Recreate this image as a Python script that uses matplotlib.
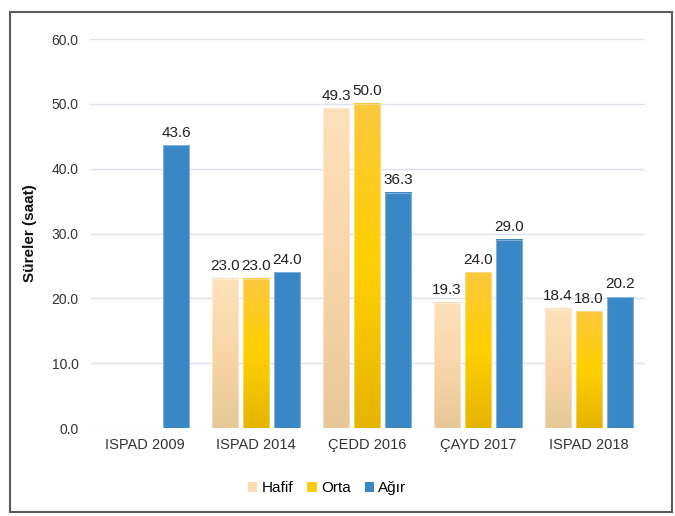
import numpy as np
import matplotlib

matplotlib.use("Agg")
import matplotlib.pyplot as plt
from matplotlib.colors import LinearSegmentedColormap
from matplotlib.patches import Patch, Rectangle

categories = ["ISPAD 2009", "ISPAD 2014", "ÇEDD 2016", "ÇAYD 2017", "ISPAD 2018"]
hafif = [np.nan, 23.0, 49.3, 19.3, 18.4]
orta = [np.nan, 23.0, 50.0, 24.0, 18.0]
agir = [43.6, 24.0, 36.3, 29.0, 20.2]
series_names = ["Hafif", "Orta", "Ağır"]

plt.rcParams["font.family"] = ["Liberation Sans", "DejaVu Sans"]

# top -> bottom gradient colours per series
cmaps = [
    LinearSegmentedColormap.from_list("hafif", ["#FEE1BA", "#F8D6AA", "#E7C797"]),
    LinearSegmentedColormap.from_list("orta", ["#FCC83E", "#FFD000", "#E6B400"]),
    LinearSegmentedColormap.from_list("agir", ["#3A87C6", "#3A87C6"]),
]
legend_colors = ["#FCDDB2", "#FFCB10", "#3A87C6"]

fig = plt.figure(figsize=(6.75, 5.16), dpi=100)
ax = fig.add_axes([0.1326, 0.1705, 0.8224, 0.7539])

x = np.arange(len(categories))
width = 0.235
offset = 0.28
grad = np.linspace(0, 1, 256).reshape(-1, 1)

for k, values in enumerate([hafif, orta, agir]):
    pos = x + (k - 1) * offset
    bars = ax.bar(pos, values, width, color="none", edgecolor="none", zorder=3)
    for rect, v in zip(bars, values):
        if np.isnan(v):
            continue
        x0 = rect.get_x()
        ax.imshow(grad, extent=[x0, x0 + width, 0, v], aspect="auto",
                  cmap=cmaps[k], origin="upper", zorder=2)
        ax.add_patch(Rectangle((x0, 0), width, v, fill=False,
                               edgecolor="#FFFFFF", linewidth=0.8, alpha=0.35, zorder=3))
        ax.annotate(f"{v:.1f}", (x0 + width / 2, v), xytext=(0, 4),
                    textcoords="offset points", ha="center", va="bottom",
                    fontsize=11, color="#222222")

ax.set_xlim(-0.5, len(categories) - 0.5)
ax.set_ylim(0, 60)
ax.set_yticks(np.arange(0, 61, 10))
ax.set_yticklabels([f"{t:.1f}" for t in np.arange(0, 61, 10)])
ax.set_xticks(x)
ax.set_xticklabels(categories)
ax.tick_params(axis="both", length=0, labelsize=10, colors="#333333")
ax.tick_params(axis="y", pad=8)
ax.tick_params(axis="x", pad=7, labelsize=10.5)
ax.yaxis.grid(True, color="#DDE1EA", linewidth=1.0)
ax.set_axisbelow(True)
for spine in ax.spines.values():
    spine.set_visible(False)
ax.set_ylabel("Süreler (saat)", fontsize=11, fontweight="bold", color="#111111", labelpad=10)

handles = [Patch(facecolor=c, edgecolor="none") for c in legend_colors]
fig.legend(handles, series_names, loc="center", bbox_to_anchor=(0.485, 0.054), ncol=3,
           frameon=False, fontsize=11, handlelength=0.6, handleheight=0.6,
           handletextpad=0.3, columnspacing=0.9)

fig.patches.append(Rectangle((0.015, 0.008), 0.98, 0.969, transform=fig.transFigure,
                             fill=False, edgecolor="#5A5A5A", linewidth=1.5))

fig.savefig("out.png", dpi=100)
plt.close(fig)
